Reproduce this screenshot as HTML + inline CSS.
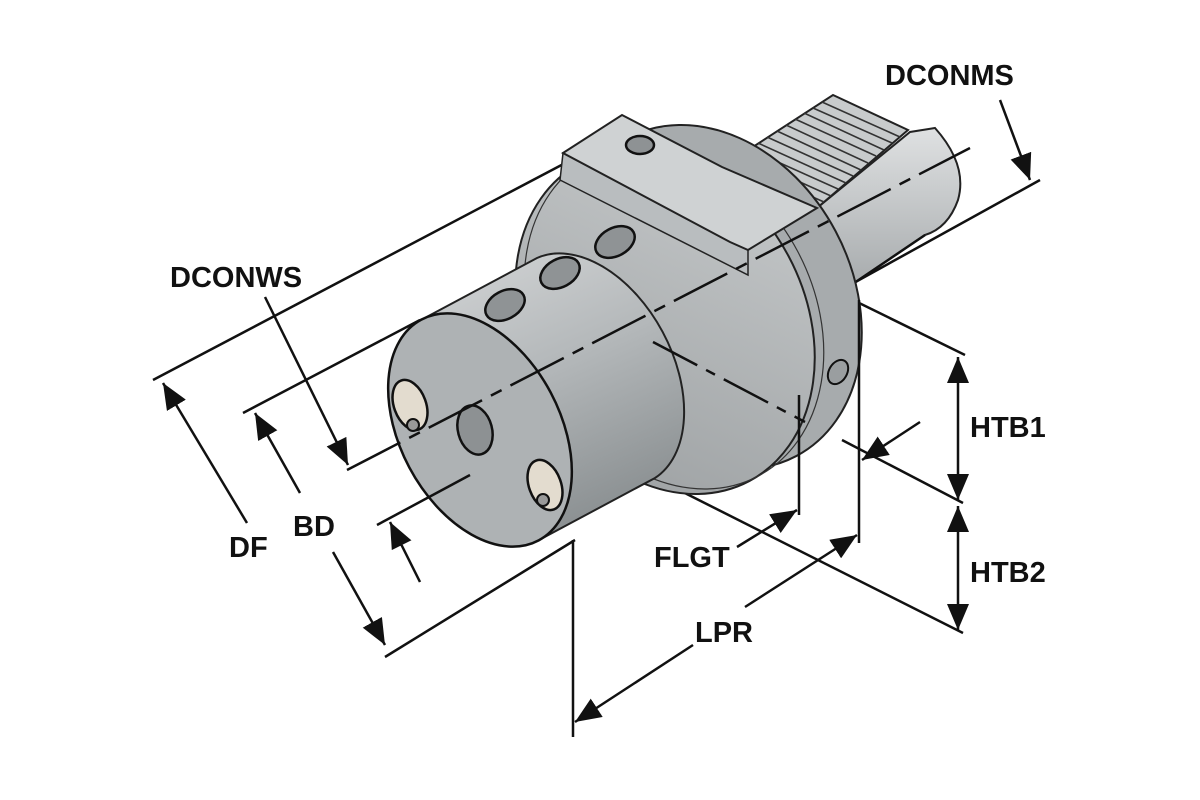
<!DOCTYPE html>
<html><head><meta charset="utf-8"><style>
html,body{margin:0;padding:0;background:#fff;}
svg{display:block;}
text{font-family:"Liberation Sans",Arial,sans-serif;font-weight:bold;fill:#111;}
</style></head><body>
<svg width="1200" height="800" viewBox="0 0 1200 800" xmlns="http://www.w3.org/2000/svg">
<defs>
<linearGradient id="gb" x1="0" y1="0" x2="0.4" y2="1">
<stop offset="0" stop-color="#d4d6d7"/><stop offset="0.5" stop-color="#b4b8ba"/><stop offset="1" stop-color="#8d9294"/></linearGradient>
<linearGradient id="gf" x1="0" y1="0" x2="1" y2="1">
<stop offset="0" stop-color="#c9cccd"/><stop offset="1" stop-color="#9a9ea0"/></linearGradient>
<linearGradient id="gs" x1="0" y1="0" x2="0" y2="1">
<stop offset="0" stop-color="#dfe1e2"/><stop offset="1" stop-color="#a3a7a9"/></linearGradient>
<marker id="a2" viewBox="0 0 10 10" refX="10" refY="5" markerWidth="26" markerHeight="22" orient="auto-start-reverse" markerUnits="userSpaceOnUse" preserveAspectRatio="none">
<path d="M0,0 L10,5 L0,10 z" fill="#111"/></marker>
</defs>

<g stroke="#111" stroke-width="2.5" fill="none">
<line x1="153" y1="380" x2="590" y2="150"/>
<line x1="243" y1="413" x2="420" y2="320"/>
<line x1="1040" y1="180" x2="850" y2="285"/>
<line x1="853" y1="300" x2="965" y2="355"/>
<line x1="655" y1="478" x2="963" y2="633"/>
<line x1="842" y1="440" x2="963" y2="503"/>
</g>

<!-- shank -->
<path d="M760,200 L817,208 L910,132 L935,128 Q968,165 958,200 Q948,228 925,235 L832,298 L780,270 Z" fill="url(#gs)" stroke="#222" stroke-width="2"/>
<path d="M722,167 L833,95 L908,130 L817,208 Z" fill="#c8cbcc" stroke="#222" stroke-width="2"/>
<g stroke="#333" stroke-width="1.6">
<line x1="731" y1="161" x2="824" y2="202"/><line x1="740" y1="155" x2="831" y2="196"/>
<line x1="749" y1="149" x2="838" y2="189"/><line x1="758" y1="143" x2="846" y2="183"/>
<line x1="767" y1="137" x2="853" y2="176"/><line x1="777" y1="131" x2="861" y2="170"/>
<line x1="786" y1="125" x2="868" y2="163"/><line x1="795" y1="119" x2="876" y2="156"/>
<line x1="804" y1="113" x2="884" y2="150"/><line x1="813" y1="108" x2="892" y2="143"/>
<line x1="822" y1="102" x2="900" y2="137"/>
</g>
<line x1="832" y1="298" x2="925" y2="235" stroke="#111" stroke-width="2.5"/>

<!-- flange -->
<ellipse cx="712" cy="297" rx="180" ry="140" transform="rotate(62 712 297)" fill="#a7abad" stroke="#222" stroke-width="2"/>
<ellipse cx="665" cy="322" rx="180" ry="140" transform="rotate(62 665 322)" fill="url(#gf)" stroke="#222" stroke-width="2"/>
<ellipse cx="674" cy="317" rx="180" ry="140" transform="rotate(62 674 317)" fill="none" stroke="#333" stroke-width="1.2"/>
<!-- top block -->
<path d="M563,153 L730,242 L748,250 L748,275 L560,180 Z" fill="#b9bdbf" stroke="#222" stroke-width="1.5"/>
<path d="M563,153 L622,115 L722,167 L817,208 L748,250 L730,242 Z" fill="#cfd2d3" stroke="#222" stroke-width="2"/>
<ellipse cx="640" cy="145" rx="14" ry="9" fill="#8e9294" stroke="#111" stroke-width="2.5"/>
<ellipse cx="838" cy="372" rx="9" ry="13" transform="rotate(30 838 372)" fill="#9a9ea0" stroke="#111" stroke-width="2"/>

<!-- body -->
<path d="M421,320 L537,258 A125,80 62 0 1 655,478 L539,540 Z" fill="url(#gb)" stroke="#222" stroke-width="2"/>
<g fill="#8f9395" stroke="#111" stroke-width="2.5">
<ellipse cx="505" cy="305" rx="21" ry="14" transform="rotate(-28 505 305)"/>
<ellipse cx="560" cy="273" rx="21" ry="14" transform="rotate(-28 560 273)"/>
<ellipse cx="615" cy="242" rx="21" ry="14" transform="rotate(-28 615 242)"/>
</g>
<!-- front face -->
<ellipse cx="480" cy="430" rx="125" ry="80" transform="rotate(62 480 430)" fill="#aeb2b4" stroke="#111" stroke-width="2.5"/>
<ellipse cx="475" cy="430" rx="17" ry="25" transform="rotate(-15 475 430)" fill="#8d9193" stroke="#111" stroke-width="2.5"/>
<ellipse cx="410" cy="405" rx="16" ry="26" transform="rotate(-20 410 405)" fill="#e3dccf" stroke="#111" stroke-width="2.5"/>
<ellipse cx="545" cy="485" rx="16" ry="26" transform="rotate(-20 545 485)" fill="#e3dccf" stroke="#111" stroke-width="2.5"/>
<circle cx="413" cy="425" r="6" fill="#999" stroke="#111" stroke-width="2"/>
<circle cx="543" cy="500" r="6" fill="#999" stroke="#111" stroke-width="2"/>

<g stroke="#111" stroke-width="2.5" fill="none">
<line x1="347" y1="470" x2="970" y2="148" stroke-dasharray="60,10,12,10"/>
<line x1="653" y1="342" x2="805" y2="422" stroke-dasharray="50,10,10,10"/>
<line x1="377" y1="525" x2="470" y2="475"/>
<line x1="385" y1="657" x2="575" y2="540"/>
<line x1="573" y1="540" x2="573" y2="737"/>
<line x1="799" y1="395" x2="799" y2="515"/>
<line x1="859" y1="300" x2="859" y2="543"/>
<line x1="247" y1="523" x2="163" y2="383" marker-end="url(#a2)"/>
<line x1="333" y1="552" x2="385" y2="645" marker-end="url(#a2)"/>
<line x1="300" y1="493" x2="255" y2="413" marker-end="url(#a2)"/>
<line x1="420" y1="582" x2="390" y2="522" marker-end="url(#a2)"/>
<line x1="265" y1="297" x2="348" y2="465" marker-end="url(#a2)"/>
<line x1="1000" y1="100" x2="1030" y2="180" marker-end="url(#a2)"/>
<line x1="958" y1="430" x2="958" y2="357" marker-end="url(#a2)"/>
<line x1="958" y1="430" x2="958" y2="500" marker-end="url(#a2)"/>
<line x1="958" y1="570" x2="958" y2="506" marker-end="url(#a2)"/>
<line x1="958" y1="570" x2="958" y2="630" marker-end="url(#a2)"/>
<line x1="737" y1="547" x2="797" y2="510" marker-end="url(#a2)"/>
<line x1="920" y1="422" x2="862" y2="460" marker-end="url(#a2)"/>
<line x1="745" y1="607" x2="857" y2="535" marker-end="url(#a2)"/>
<line x1="693" y1="645" x2="575" y2="722" marker-end="url(#a2)"/>
</g>

<g font-size="29">
<text x="885" y="85">DCONMS</text>
<text x="170" y="287">DCONWS</text>
<text x="229" y="557">DF</text>
<text x="293" y="536">BD</text>
<text x="654" y="567">FLGT</text>
<text x="695" y="642">LPR</text>
<text x="970" y="437">HTB1</text>
<text x="970" y="582">HTB2</text>
</g>
</svg>
</body></html>
